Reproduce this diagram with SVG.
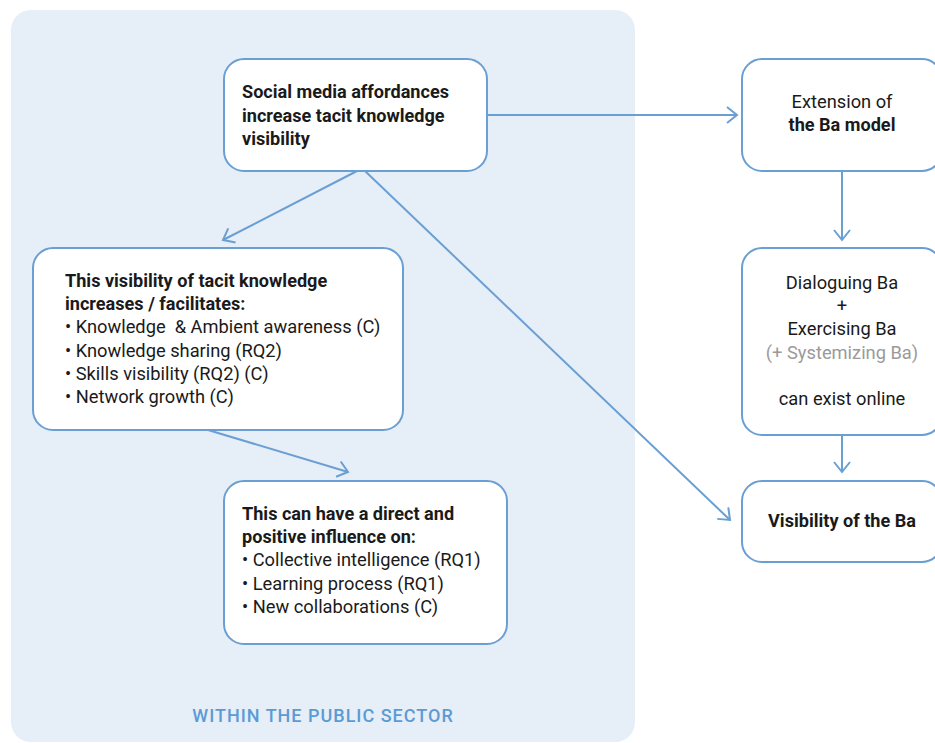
<svg xmlns="http://www.w3.org/2000/svg" width="935" height="743" viewBox="0 0 935 743">
<defs>
<style>
.box{fill:#ffffff;stroke:#6a9fd3;stroke-width:2}
.t{font-family:Roboto,"Liberation Sans",sans-serif;font-size:18.3px;fill:#1a1a1a}
.b{font-weight:700;font-size:18.1px}
.c{text-anchor:middle}
.g{fill:#9a9a9a}
.conn{fill:none;stroke:#6a9fd3;stroke-width:2}
</style>
<marker id="ah" viewBox="-12 -10 14 20" refX="0" refY="0" markerWidth="14" markerHeight="20" markerUnits="userSpaceOnUse" orient="auto">
<path d="M-10,-8 L0,0 L-10,8" fill="none" stroke="#6a9fd3" stroke-width="2"/>
</marker>
</defs>
<rect width="935" height="743" fill="#ffffff"/>
<g id="panel">
<rect x="11" y="10" width="624" height="732" rx="20" fill="#e6eef8"/>
<text x="323" y="722" class="t c" style="font-size:18px;font-weight:500;fill:#5b9bd5;letter-spacing:1px">WITHIN THE PUBLIC SECTOR</text>
</g>
<g id="connectors">
<path class="conn" d="M487,115 L737,115" marker-end="url(#ah)"/>
<path class="conn" d="M357,171 L223,240" marker-end="url(#ah)"/>
<path class="conn" d="M365,171 L730,520" marker-end="url(#ah)"/>
<path class="conn" d="M208,430 L348,472" marker-end="url(#ah)"/>
<path class="conn" d="M842,171 L842,240" marker-end="url(#ah)"/>
<path class="conn" d="M842,435 L842,472" marker-end="url(#ah)"/>
</g>
<g id="node-social">
<rect class="box" x="224" y="59" width="263" height="112" rx="20"/>
<text class="t b" x="242" y="98">Social media affordances</text>
<text class="t b" x="242" y="122">increase tacit knowledge</text>
<text class="t b" x="242" y="145">visibility</text>
</g>
<g id="node-visibility-tacit">
<rect class="box" x="33" y="248" width="370" height="182" rx="20"/>
<text class="t b" x="65" y="287">This visibility of tacit knowledge</text>
<text class="t b" x="65" y="310">increases / facilitates:</text>
<text class="t" x="65" y="333">• Knowledge&#160; &amp; Ambient awareness (C)</text>
<text class="t" x="65" y="357">• Knowledge sharing (RQ2)</text>
<text class="t" x="65" y="380">• Skills visibility (RQ2) (C)</text>
<text class="t" x="65" y="403">• Network growth (C)</text>
</g>
<g id="node-influence">
<rect class="box" x="224" y="481" width="283" height="163" rx="20"/>
<text class="t b" x="242" y="520">This can have a direct and</text>
<text class="t b" x="242" y="543">positive influence on:</text>
<text class="t" x="242" y="566">• Collective intelligence (RQ1)</text>
<text class="t" x="242" y="590">• Learning process (RQ1)</text>
<text class="t" x="242" y="613">• New collaborations (C)</text>
</g>
<g id="node-extension">
<rect class="box" x="742" y="59" width="200" height="112" rx="20"/>
<text class="t c" x="842" y="108">Extension of</text>
<text class="t b c" x="842" y="131">the Ba model</text>
</g>
<g id="node-dialoguing">
<rect class="box" x="742" y="248" width="200" height="187" rx="20"/>
<text class="t c" x="842" y="289">Dialoguing Ba</text>
<text class="t c" x="842" y="312">+</text>
<text class="t c" x="842" y="335">Exercising Ba</text>
<text class="t c g" x="842" y="359">(+ Systemizing Ba)</text>
<text class="t c" x="842" y="405">can exist online</text>
</g>
<g id="node-ba-visibility">
<rect class="box" x="742" y="481" width="200" height="81" rx="20"/>
<text class="t b c" x="842" y="527">Visibility of the Ba</text>
</g>
</svg>
